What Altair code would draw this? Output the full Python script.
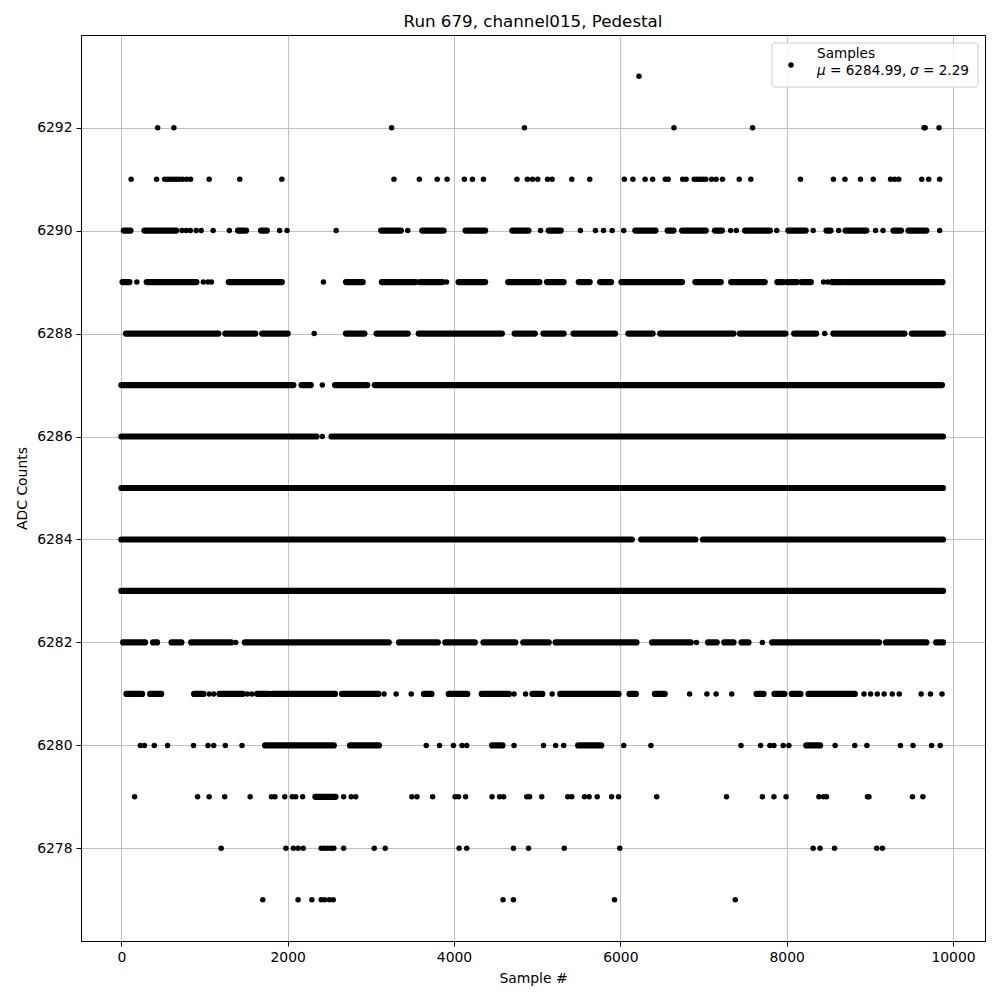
import altair as alt
import pandas as pd

# ---- data (sample #, ADC level) ----
pts_6293 = [6225]
pts_6292 = [437, 632, 3250, 4847, 6645, 7590, 9652, 9665, 9833]
pts_6291 = [118, 424, 521, 556, 590, 625, 660, 694, 736, 785, 833, 1056, 1424, 1930,
            3278, 3583, 3798, 3917, 4125, 4222, 4354, 4757, 4882, 4944, 5007, 5125, 5180,
            5416, 5632, 6048, 6152, 6298, 6389, 6541, 6576, 6750, 6791, 6889, 6923, 6958,
            6993, 7027, 7097, 7152, 7229, 7430, 7569, 8166, 8562, 8701, 8888, 9041, 9250,
            9298, 9347, 9625, 9708, 9840]
runs_6290 = [(30, 110), (278, 660), (1403, 1500), (1680, 1750), (3125, 3361), (3618, 3875),
             (4139, 4375), (4701, 4896), (5139, 5284), (6180, 6423), (6569, 6639), (6743, 7027),
             (7138, 7222), (7500, 7798), (8020, 8229), (8479, 8527), (8708, 8958), (9284, 9375),
             (9465, 9680)]
pts_6290 = [730, 780, 830, 900, 960, 1104, 1299, 1903, 1993, 2583, 3444, 5041, 5520, 5701,
            5798, 5902, 6041, 7326, 7395, 7881, 8319, 8625, 9069, 9159, 9840]
runs_6289 = [(14, 97), (305, 903), (1292, 1930), (2701, 2903), (3132, 3540), (3590, 3861),
             (4055, 4375), (4652, 5027), (5118, 5319), (5500, 5632), (5757, 5889), (6013, 6743),
             (6902, 7208), (7333, 7736), (7888, 7958), (8000, 8125), (8180, 8291), (8541, 8666),
             (8694, 9875)]
pts_6289 = [187, 986, 1042, 1083, 2430, 3910, 8444, 8493]
runs_6288 = [(56, 1167), (1250, 1611), (1694, 2000), (2701, 2923), (3069, 3444), (3576, 4576),
             (4729, 4972), (5076, 5319), (5437, 5937), (6097, 6389), (6479, 7361), (7437, 7986),
             (8090, 8354), (8562, 9416), (9506, 9880)]
pts_6288 = [2319, 8458]
runs_6287 = [(0, 2069), (2166, 2278), (2569, 2958), (3048, 9868)]
pts_6287 = [2417]
runs_6286 = [(0, 2347), (2527, 9880)]
pts_6286 = [2417]
runs_6285 = [(0, 9880)]
runs_6284 = [(0, 6139), (6250, 6902), (6993, 9880)]
runs_6283 = [(0, 9880)]
runs_6282 = [(21, 285), (382, 430), (604, 722), (840, 1319), (1486, 3215), (3340, 3805),
             (3896, 4250), (4354, 4736), (4833, 5139), (5222, 6194), (6382, 6847), (7055, 7159),
             (7250, 7361), (7458, 7541), (7826, 9111), (9194, 9680), (9798, 9880)]
pts_6282 = [1375, 6916, 7708]
runs_6281 = [(62, 250), (347, 479), (875, 986), (1180, 1458), (1632, 1771), (1819, 2569),
             (2653, 3090), (3639, 3729), (3937, 4160), (4333, 4660), (4944, 5062), (5277, 5979),
             (6111, 6187), (6416, 6534), (7638, 7722), (7854, 7972), (8062, 8166), (8263, 8819)]
pts_6281 = [1056, 1111, 1514, 1569, 3159, 3305, 3486, 4722, 4861, 5180, 6833, 7041, 7152,
            7340, 8930, 9010, 9090, 9173, 9270, 9354, 9617, 9729, 9868]
runs_6280 = [(1729, 2555), (2750, 3097), (4458, 4583), (5493, 5770), (8236, 8402)]
pts_6280 = [229, 278, 396, 556, 868, 1042, 1111, 1250, 1451, 3666, 3826, 3993, 4097, 4153,
            4722, 5076, 5222, 5319, 6041, 6368, 7451, 7687, 7798, 7847, 7958, 8027, 8583,
            8819, 8965, 9368, 9520, 9743, 9847]
runs_6279 = [(2333, 2576)]
pts_6279 = [160, 917, 1056, 1243, 1549, 1805, 1847, 1965, 2055, 2097, 2180, 2673, 2764, 2819,
            3493, 3555, 3743, 4014, 4055, 4139, 4458, 4548, 4597, 4875, 4909, 5055, 5368,
            5416, 5569, 5625, 5722, 5895, 5979, 6437, 7277, 7708, 7847, 7993, 8388, 8444,
            8479, 8972, 8990, 9513, 9638]
pts_6278 = [1201, 1979, 2069, 2125, 2187, 2403, 2440, 2480, 2520, 2555, 2673, 3041, 3173,
            4062, 4153, 4715, 4896, 5326, 5993, 8319, 8402, 8576, 9083, 9152]
pts_6277 = [1701, 2125, 2291, 2403, 2444, 2500, 2548, 4590, 4715, 5930, 7382]

x_ticks = [0, 2000, 4000, 6000, 8000, 10000]
y_ticks = [6278, 6280, 6282, 6284, 6286, 6288, 6290, 6292]

title_text = "Run 679, channel015, Pedestal"
legend_label = "Samples"
mu_text = "= 6284.99,"
sigma_text = "= 2.29"

# ---- build tables ----
point_sets = [(6293, pts_6293), (6292, pts_6292), (6291, pts_6291), (6290, pts_6290),
              (6289, pts_6289), (6288, pts_6288), (6287, pts_6287), (6286, pts_6286),
              (6282, pts_6282), (6281, pts_6281), (6280, pts_6280), (6279, pts_6279),
              (6278, pts_6278), (6277, pts_6277)]
run_sets = [(6290, runs_6290), (6289, runs_6289), (6288, runs_6288), (6287, runs_6287),
            (6286, runs_6286), (6285, runs_6285), (6284, runs_6284), (6283, runs_6283),
            (6282, runs_6282), (6281, runs_6281), (6280, runs_6280), (6279, runs_6279)]

pts_df = pd.DataFrame([{"x": x, "y": lvl} for lvl, xs in point_sets for x in xs])
runs_df = pd.DataFrame([{"x": a, "x2": b, "y": lvl} for lvl, rs in run_sets for a, b in rs])

FONT = "DejaVu Sans"
DOT = 30
x_scale = alt.Scale(domain=[-485, 10385], nice=False, zero=False)
y_scale = alt.Scale(domain=[6276.2, 6293.8], nice=False, zero=False)
x_axis = alt.Axis(values=x_ticks, format="d", title="Sample #", grid=True)
y_axis = alt.Axis(values=y_ticks, format="d", title="ADC Counts", grid=True)

runs = alt.Chart(runs_df).mark_rule(strokeCap="round", strokeWidth=6.2, color="black").encode(
    x=alt.X("x:Q", scale=x_scale, axis=x_axis),
    x2="x2:Q",
    y=alt.Y("y:Q", scale=y_scale, axis=y_axis),
)
points = alt.Chart(pts_df).mark_circle(size=DOT, color="black", opacity=1).encode(
    x=alt.X("x:Q", scale=x_scale, axis=x_axis),
    y=alt.Y("y:Q", scale=y_scale, axis=y_axis),
)

one = alt.Data(values=[{"a": 1}])
leg_box = alt.Chart(one).mark_rect(fill="white", fillOpacity=0.8, stroke="#cccccc",
                                   strokeWidth=1, cornerRadius=3).encode(
    x=alt.value(691), x2=alt.value(897), y=alt.value(8), y2=alt.value(52))
leg_dot = alt.Chart(one).mark_circle(size=DOT, color="black", opacity=1).encode(
    x=alt.value(710), y=alt.value(30))
txt = dict(font=FONT, fontSize=13.6, color="black", align="left", baseline="middle")
leg_t1 = alt.Chart(one).mark_text(**txt).encode(x=alt.value(736), y=alt.value(19),
                                                text=alt.value(legend_label))
leg_mu = alt.Chart(one).mark_text(fontStyle="italic", **txt).encode(
    x=alt.value(736), y=alt.value(36), text=alt.value("μ"))
leg_t2 = alt.Chart(one).mark_text(**txt).encode(x=alt.value(749), y=alt.value(36),
                                                text=alt.value(mu_text))
leg_sig = alt.Chart(one).mark_text(fontStyle="italic", **txt).encode(
    x=alt.value(829), y=alt.value(36), text=alt.value("σ"))
leg_t3 = alt.Chart(one).mark_text(**txt).encode(x=alt.value(842), y=alt.value(36),
                                                text=alt.value(sigma_text))

chart = alt.layer(runs, points, leg_box, leg_dot, leg_t1, leg_mu, leg_t2, leg_sig, leg_t3).properties(
    width=904, height=906,
    title=alt.TitleParams(title_text, font=FONT, fontSize=16.7, fontWeight="normal",
                          color="black", offset=4),
    autosize=alt.AutoSizeParams(type="none"),
    padding={"left": 73, "top": 27, "right": 7, "bottom": 51},
).configure_view(stroke="black", strokeWidth=1).configure_axis(
    domainColor="black", domainWidth=1, tickColor="black", tickSize=5, tickWidth=1,
    gridColor="#b0b0b0", gridWidth=0.8, labelFont=FONT, labelFontSize=13.9,
    labelColor="black", labelPadding=4, titleFont=FONT, titleFontSize=13.9,
    titleFontWeight="normal", titleColor="black",
).configure_axisX(titlePadding=8).configure_axisY(titlePadding=7)

chart.save("out.html", embed_options={"renderer": "svg", "actions": False})
